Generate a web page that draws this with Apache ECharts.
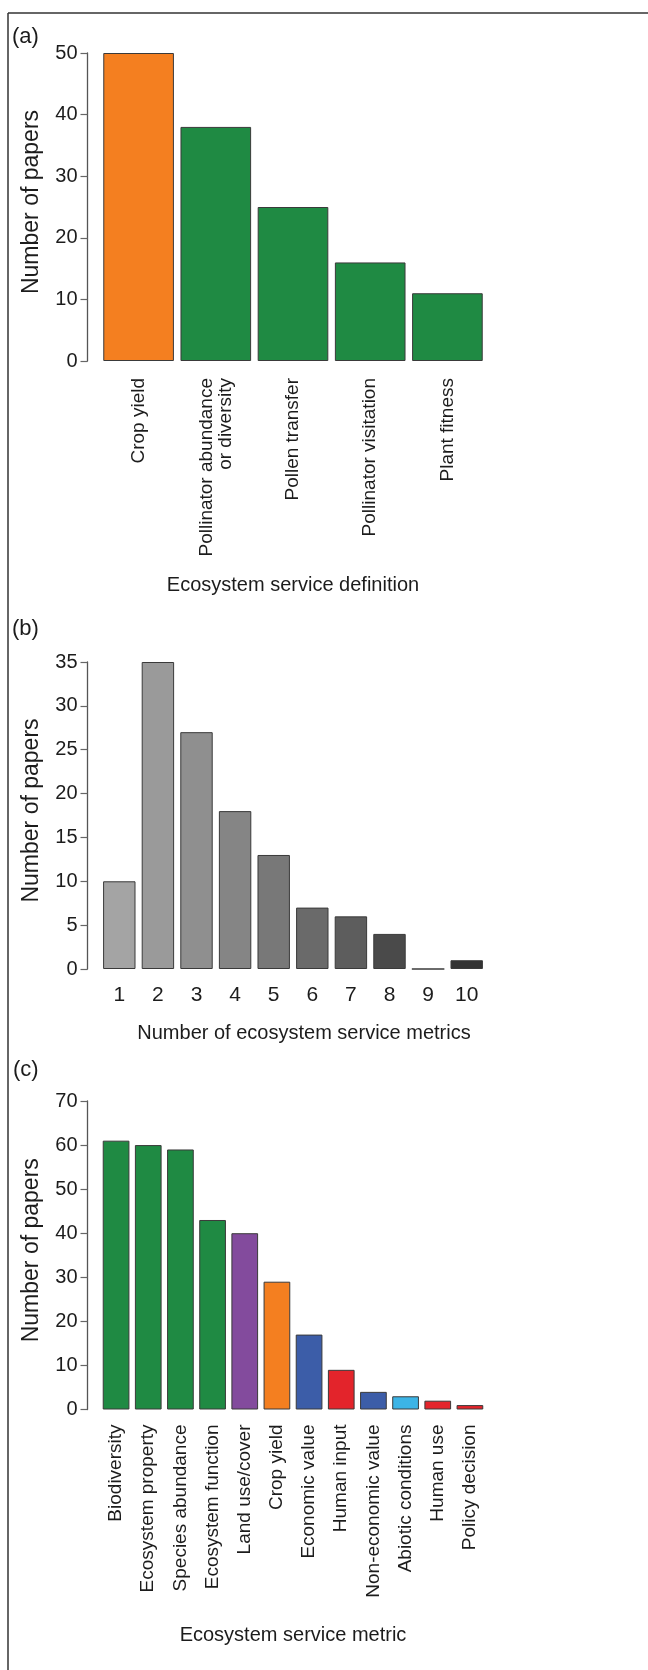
<!DOCTYPE html>
<html>
<head>
<meta charset="utf-8">
<script src="https://cdn.jsdelivr.net/npm/echarts@6/dist/echarts.min.js"></script>
<style>
  html, body { margin: 0; padding: 0; background: #fff; }
  #chart { width: 648px; height: 1670px; }
</style>
</head>
<body>
<div id="chart"></div>
<script>
// (a) Ecosystem service definition
const definitionNames = ['Crop yield', 'Pollinator abundance\nor diversity', 'Pollen transfer', 'Pollinator visitation', 'Plant fitness'];
const definitionPapers = [50, 38, 25, 16, 11];
const definitionColors = ['#f47f20', '#1f8a43', '#1f8a43', '#1f8a43', '#1f8a43'];

// (b) Number of ecosystem service metrics per paper
const metricCounts = ['1', '2', '3', '4', '5', '6', '7', '8', '9', '10'];
const metricCountPapers = [10, 35, 27, 18, 13, 7, 6, 4, 0, 1];
const metricCountGreys = ['#a4a4a4', '#9a9a9a', '#8f8f8f', '#858585', '#787878', '#6a6a6a', '#5d5d5d', '#4a4a4a', '#8a8a8a', '#333333'];

// (c) Ecosystem service metric
const metricNames = ['Biodiversity', 'Ecosystem property', 'Species abundance', 'Ecosystem function', 'Land use/cover', 'Crop yield', 'Economic value', 'Human input', 'Non-economic value', 'Abiotic conditions', 'Human use', 'Policy decision'];
const metricPapers = [61, 60, 59, 43, 40, 29, 17, 9, 4, 3, 2, 1];
const metricColors = ['#1f8a43', '#1f8a43', '#1f8a43', '#1f8a43', '#834b9d', '#f47f20', '#3c5da8', '#e3242b', '#3c5da8', '#3cb4e6', '#e3242b', '#e3242b'];

// y-axis ranges for the three panels
const yMaxes = [50, 35, 70];
const yIntervals = [10, 5, 10];

const FONT = "'Liberation Sans', Arial, Helvetica, sans-serif";
const INK = '#1c1c1c';

const grids = [
  { left: 100, width: 386, top: 53, height: 308 },
  { left: 100, width: 386, top: 662, height: 307 },
  { left: 100, width: 386, top: 1101, height: 308.5 }
];

function yAxisFor(i) {
  return {
    type: 'value', gridIndex: i, min: 0, max: yMaxes[i], interval: yIntervals[i],
    offset: 12.5,
    name: 'Number of papers', nameLocation: 'middle', nameGap: 44,
    nameTextStyle: { fontFamily: FONT, fontSize: 23, color: INK, padding: [0, 0, 0, 10] },
    axisLine: { show: true, lineStyle: { color: '#555', width: 1.3 } },
    axisTick: { show: true, length: 7, lineStyle: { color: '#666', width: 1.2 } },
    axisLabel: { fontFamily: FONT, fontSize: 20, color: INK, margin: 10 },
    splitLine: { show: false }
  };
}

function bars(i, values, colors, gap) {
  return {
    type: 'bar', xAxisIndex: i, yAxisIndex: i, barCategoryGap: gap,
    data: values.map((v, k) => ({ value: v, itemStyle: { color: colors[k] } })),
    itemStyle: { borderColor: '#3a3a3a', borderWidth: 1 },
    animation: false, silent: true
  };
}

const chart = echarts.init(document.getElementById('chart'), null, { renderer: 'canvas' });
chart.setOption({
  backgroundColor: '#fff',
  animation: false,
  grid: grids,
  xAxis: [
    {
      type: 'category', gridIndex: 0, data: definitionNames,
      axisLine: { show: false }, axisTick: { show: false },
      axisLabel: { rotate: 90, fontFamily: FONT, fontSize: 19, lineHeight: 19, color: INK, margin: 17, interval: 0 },
      name: 'Ecosystem service definition', nameLocation: 'middle', nameGap: 224,
      nameTextStyle: { fontFamily: FONT, fontSize: 20, color: INK, verticalAlign: 'middle' }
    },
    {
      type: 'category', gridIndex: 1, data: metricCounts,
      axisLine: { show: false }, axisTick: { show: false },
      axisLabel: { fontFamily: FONT, fontSize: 21, color: INK, margin: 16, interval: 0 },
      name: 'Number of ecosystem service metrics', nameLocation: 'middle', nameGap: 64,
      nameTextStyle: { fontFamily: FONT, fontSize: 20, color: INK, verticalAlign: 'middle', padding: [0, 0, 0, 22] }
    },
    {
      type: 'category', gridIndex: 2, data: metricNames,
      axisLine: { show: false }, axisTick: { show: false },
      axisLabel: { rotate: 90, fontFamily: FONT, fontSize: 19, color: INK, margin: 15, interval: 0 },
      name: 'Ecosystem service metric', nameLocation: 'middle', nameGap: 226,
      nameTextStyle: { fontFamily: FONT, fontSize: 20, color: INK, verticalAlign: 'middle' }
    }
  ],
  yAxis: [yAxisFor(0), yAxisFor(1), yAxisFor(2)],
  series: [
    bars(0, definitionPapers, definitionColors, '8.5%'),
    bars(1, metricCountPapers, metricCountGreys, '16%'),
    bars(2, metricPapers, metricColors, '17%')
  ],
  graphic: [
    // figure frame: top and left edges
    { type: 'line', shape: { x1: 8, y1: 13, x2: 648, y2: 13 }, style: { stroke: '#333', lineWidth: 1.5 } },
    { type: 'line', shape: { x1: 8, y1: 13, x2: 8, y2: 1670 }, style: { stroke: '#333', lineWidth: 1.5 } },
    // panel letters
    { type: 'text', left: 12, top: 26, style: { text: '(a)', font: '22px ' + FONT, fill: INK } },
    { type: 'text', left: 12, top: 618, style: { text: '(b)', font: '22px ' + FONT, fill: INK } },
    { type: 'text', left: 13, top: 1059, style: { text: '(c)', font: '22px ' + FONT, fill: INK } }
  ]
});
</script>
</body>
</html>
